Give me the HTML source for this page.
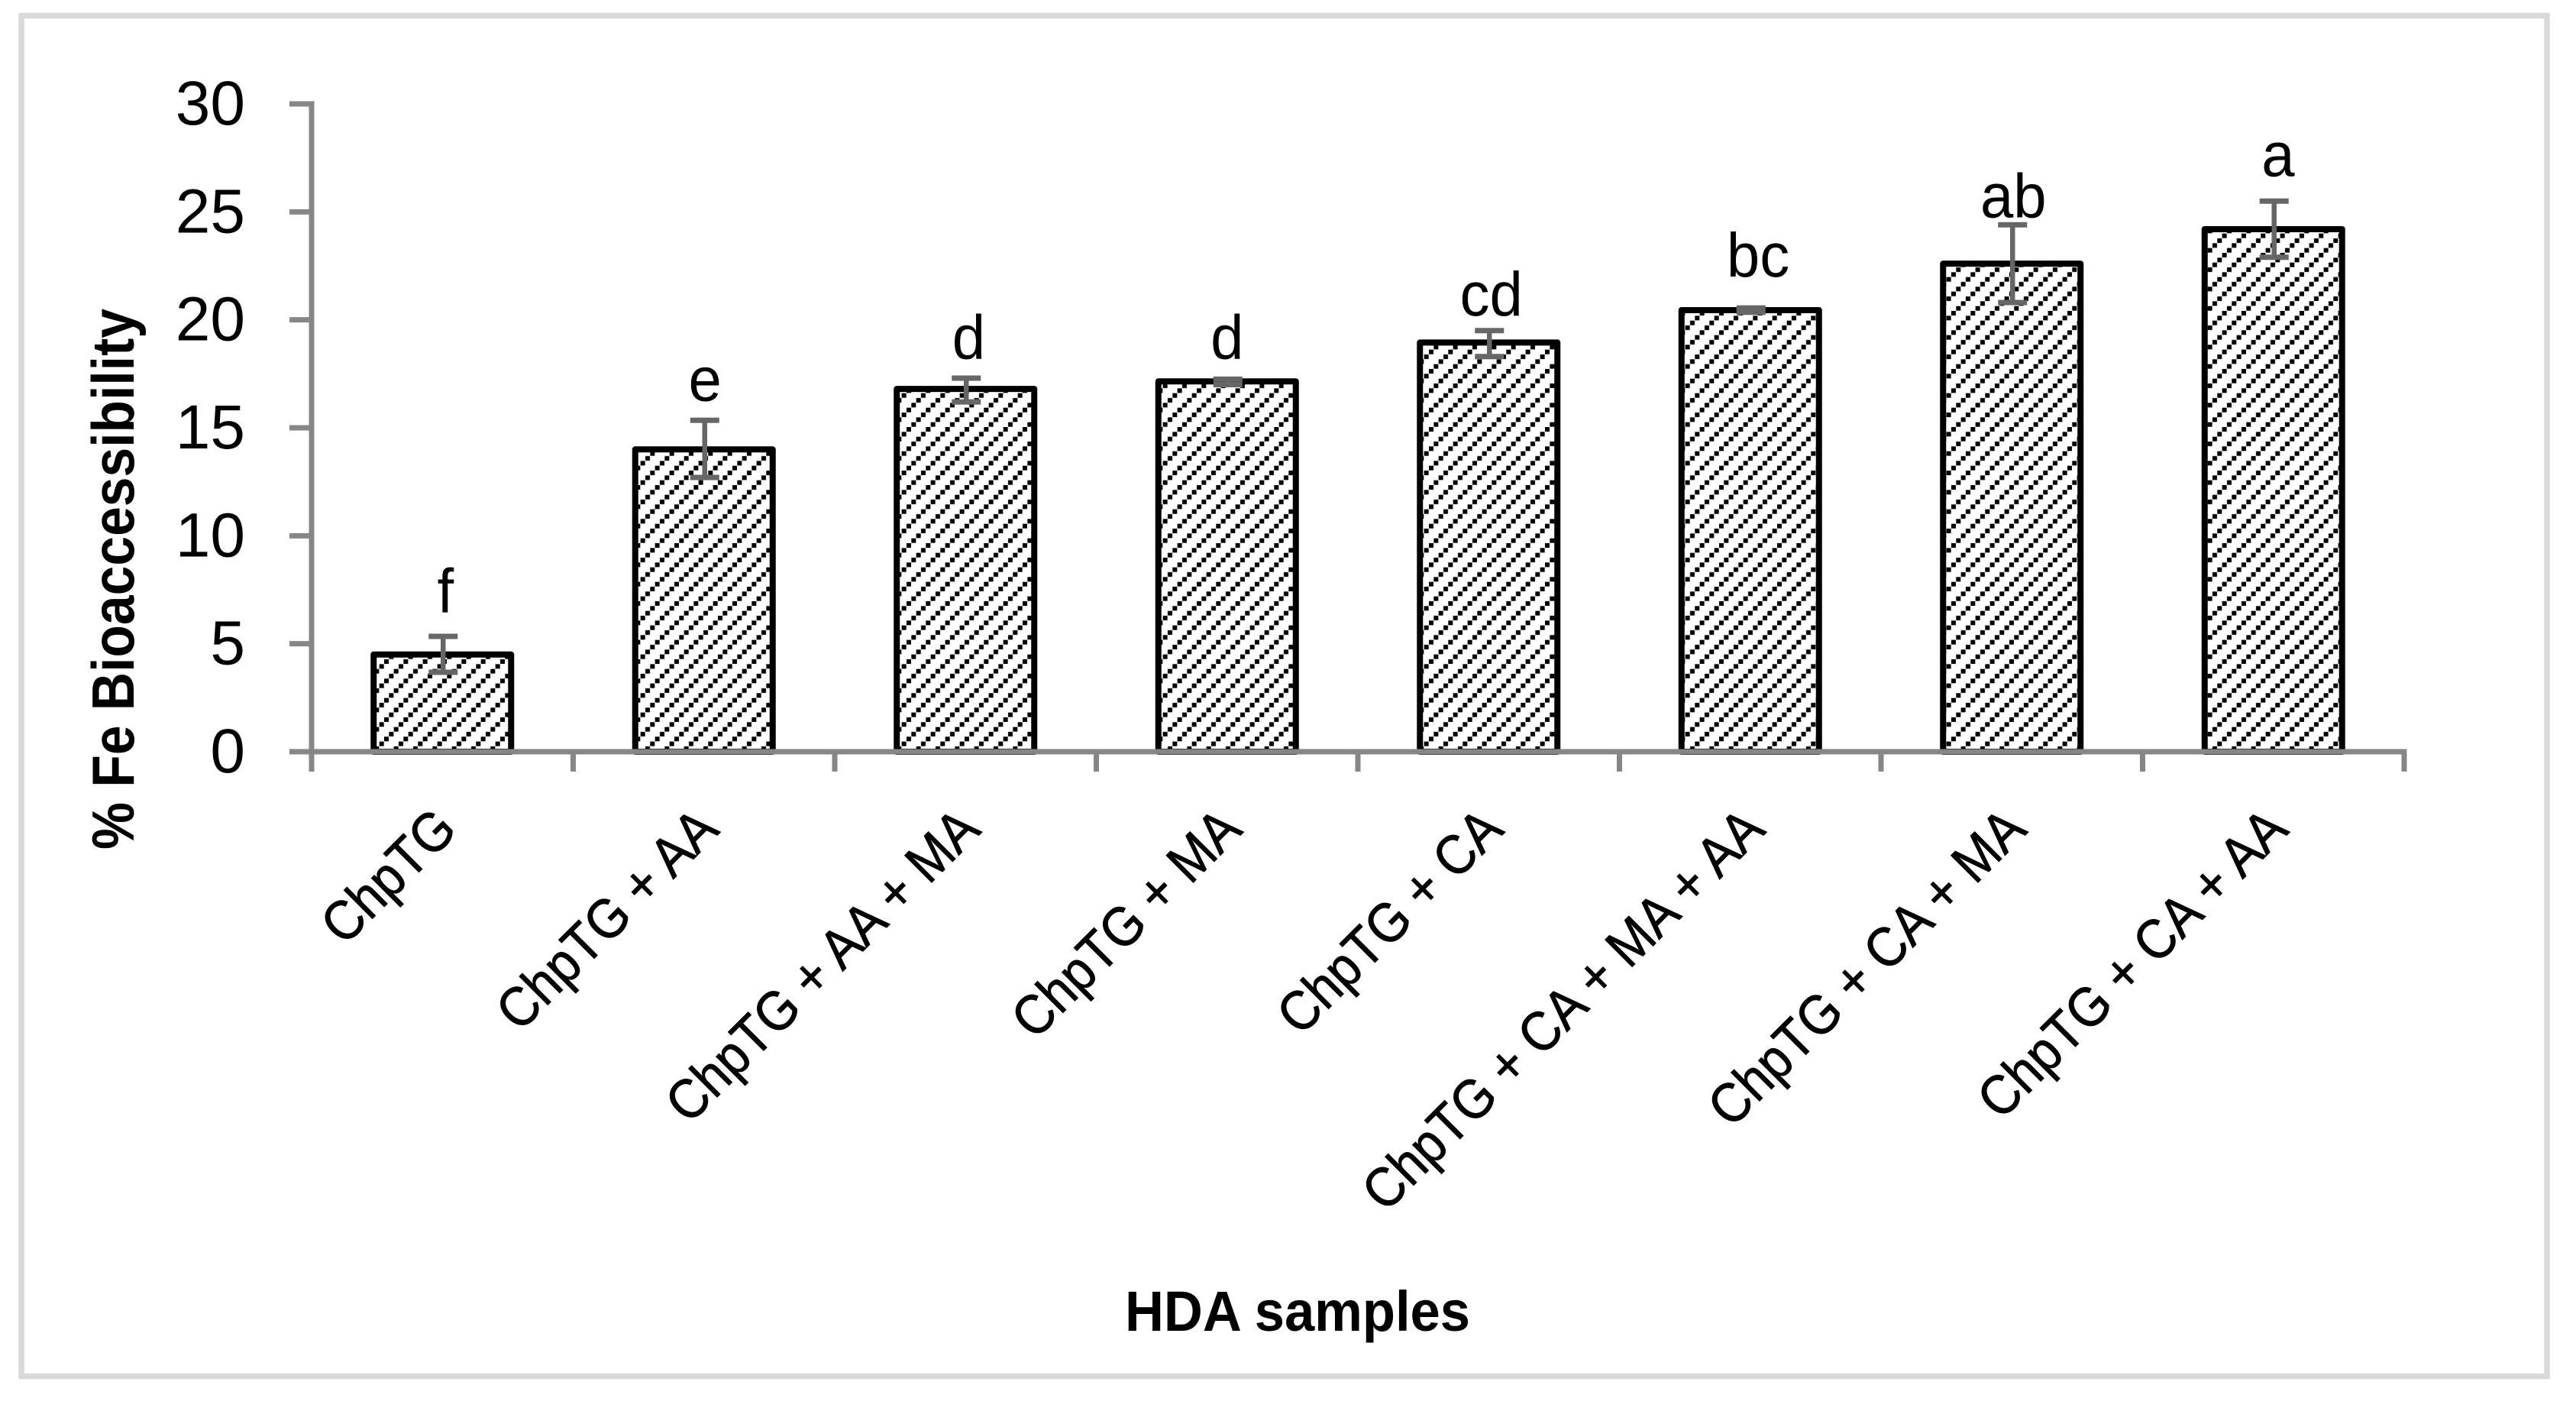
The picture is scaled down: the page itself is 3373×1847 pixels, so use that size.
<!DOCTYPE html>
<html lang="en">
<head>
<meta charset="utf-8">
<title>% Fe Bioaccessibility of HDA samples</title>
<style>
html,body{margin:0;padding:0;background:#fff;}
body{width:3373px;height:1847px;overflow:hidden;}
svg{display:block;}
text{font-family:"Liberation Sans",Arial,sans-serif;fill:#000;}
</style>
</head>
<body>
<svg id="chart" xmlns="http://www.w3.org/2000/svg" width="3373" height="1847" viewBox="0 0 3373 1847">
  <defs>
    <pattern id="hatch" patternUnits="userSpaceOnUse" x="503" y="863" width="25.333" height="25.333">
      <rect x="0" y="0" width="6" height="6" fill="#000"/>
      <rect x="6.333" y="19" width="6" height="6" fill="#000"/>
      <rect x="12.667" y="12.667" width="6" height="6" fill="#000"/>
      <rect x="19" y="6.333" width="6" height="6" fill="#000"/>
    </pattern>
  </defs>
  <rect x="28" y="20.5" width="3307" height="1781" fill="#fff" stroke="#d9d9d9" stroke-width="7.5"/>
  <text transform="translate(175,1112) rotate(-90)" font-size="78" font-weight="700" textLength="708" lengthAdjust="spacingAndGlyphs">% Fe Bioaccessibility</text>
  <text x="1473" y="1742" font-size="74" font-weight="700" textLength="452" lengthAdjust="spacingAndGlyphs">HDA samples</text>
  <g id="marks"></g>
</svg>
<script>
const categories = ["ChpTG", "ChpTG + AA", "ChpTG + AA + MA", "ChpTG + MA", "ChpTG + CA", "ChpTG + CA + MA + AA", "ChpTG + CA + MA", "ChpTG + CA + AA"];
const values = [4.5, 14.0, 16.8, 17.15, 18.95, 20.45, 22.6, 24.2];
const errorUpper = [5.34, 15.35, 17.3, 17.25, 19.5, 20.55, 24.4, 25.5];
const errorLower = [3.68, 12.7, 16.2, 17.0, 18.3, 20.35, 20.8, 22.9];
const letters = ["f", "e", "d", "d", "cd", "bc", "ab", "a"];
const letterLevels = [6.45, 16.25, 18.2, 18.2, 20.2, 22.0, 24.75, 26.65];
const letterNudges = [0.012, 0.004, 0.012, 0, 0.01, 0.03, 0.006, 0.018];
const tickValues = [0, 5, 10, 15, 20, 25, 30];
const tickLabels = ["0", "5", "10", "15", "20", "25", "30"];

const SVG_NS = "http://www.w3.org/2000/svg";
const plotLeft = 408, plotRight = 3148, plotBottom = 984, plotTop = 136, yMax = 30;
const slot = (plotRight - plotLeft) / categories.length;
function xPos(i) { return plotLeft + slot * (i + 0.5); }
function yPos(v) { return plotBottom - (v / yMax) * (plotBottom - plotTop); }
function slotEdge(i) { return plotLeft + slot * i; }

const marks = document.getElementById("marks");
function add(tag, attrs, text) {
  const node = document.createElementNS(SVG_NS, tag);
  Object.keys(attrs).forEach(function (k) { node.setAttribute(k, attrs[k]); });
  if (text !== undefined) node.textContent = text;
  marks.appendChild(node);
  return node;
}

const barHalf = 90;
categories.forEach(function (cat, i) {
  const bar = add("rect", {
    x: xPos(i) - barHalf, y: yPos(values[i]), width: barHalf * 2,
    height: plotBottom - yPos(values[i]),
    fill: "url(#hatch)", stroke: "#000", "stroke-width": 8, "stroke-linejoin": "round"
  });
  
  
});

const yLine = add("line", { x1: plotLeft, x2: plotLeft, y1: plotTop - 3.5, y2: plotBottom + 26, stroke: "#868686", "stroke-width": 7 });



const xLine = add("line", { x1: plotLeft - 29, x2: plotRight + 3.5, y1: plotBottom, y2: plotBottom, stroke: "#868686", "stroke-width": 7 });



tickValues.forEach(function (v, i) {
  const tick = add("line", { x1: plotLeft - 29, x2: plotLeft, y1: yPos(v), y2: yPos(v), stroke: "#868686", "stroke-width": 7 });
  
  
  const label = add("text", { x: 321, y: yPos(v) + 27, "text-anchor": "end", "font-size": 82 }, tickLabels[i]);
  
  
});

for (let i = 1; i <= categories.length; i++) {
  const tick = add("line", { x1: slotEdge(i), x2: slotEdge(i), y1: plotBottom, y2: plotBottom + 26, stroke: "#868686", "stroke-width": 7 });
  
  
}

categories.forEach(function (cat, i) {
  const cx = xPos(i) + 1;
  const stem = add("line", { x1: cx, x2: cx, y1: yPos(errorUpper[i]), y2: yPos(errorLower[i]), stroke: "#666", "stroke-width": 6.5 });
  
  
  const capTop = add("line", { x1: cx - 19, x2: cx + 19, y1: yPos(errorUpper[i]), y2: yPos(errorUpper[i]), stroke: "#666", "stroke-width": 7 });
  
  
  const capBottom = add("line", { x1: cx - 19, x2: cx + 19, y1: yPos(errorLower[i]), y2: yPos(errorLower[i]), stroke: "#666", "stroke-width": 7 });
  
  

  const letter = add("text", { x: 0, y: 0, "text-anchor": "middle", "font-size": 82, transform: "translate(" + (xPos(i) + letterNudges[i] * slot) + "," + yPos(letterLevels[i]) + ") scale(0.95,1)" }, letters[i]);
  
  

  const ax = xPos(i) + 22, ay = 1089;
  const catLabel = add("text", { x: 0, y: 0, "text-anchor": "end", "font-size": 73, stroke: "#000", "stroke-width": 0.9, transform: "translate(" + ax + "," + ay + ") rotate(-45) scale(0.905,1)" }, cat);
  
  
});
</script>
</body>
</html>
